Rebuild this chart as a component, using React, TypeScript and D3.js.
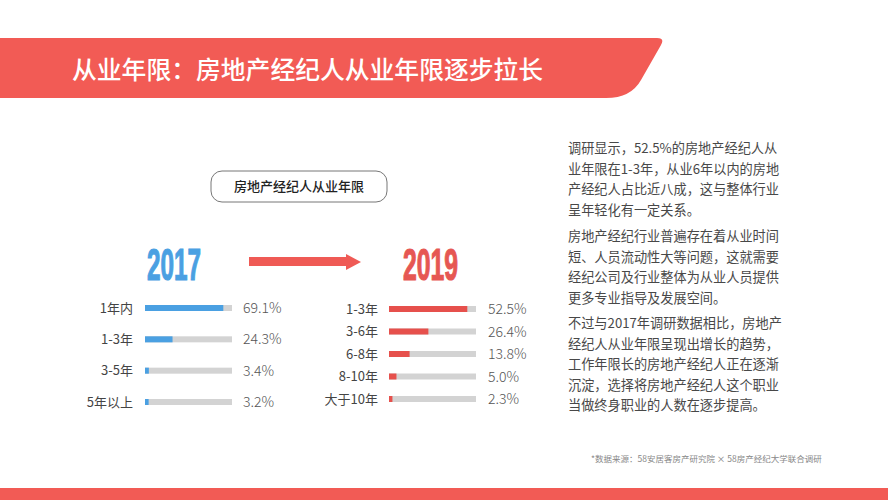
import * as d3 from "d3";

// 2017 / 2019 survey: years in the job for real-estate agents
const cats2017 = ["1年内", "1-3年", "3-5年", "5年以上"];
const vals2017 = [69.1, 24.3, 3.4, 3.2];
const cats2019 = ["1-3年", "3-6年", "6-8年", "8-10年", "大于10年"];
const vals2019 = [52.5, 26.4, 13.8, 5.0, 2.3];

const paragraphs = [
  ["调研显示，52.5%的房地产经纪人从", "业年限在1-3年，从业6年以内的房地", "产经纪人占比近八成，这与整体行业", "呈年轻化有一定关系。"],
  ["房地产经纪行业普遍存在着从业时间", "短、人员流动性大等问题，这就需要", "经纪公司及行业整体为从业人员提供", "更多专业指导及发展空间。"],
  ["不过与2017年调研数据相比，房地产", "经纪人从业年限呈现出增长的趋势，", "工作年限长的房地产经纪人正在逐渐", "沉淀，选择将房地产经纪人这个职业", "当做终身职业的人数在逐步提高。"],
];

const FONT = "'Noto Sans CJK SC', 'Noto Sans', sans-serif";
const RED = "#F25B55";
const BLUE = "#4AA0E2";

function BarPanel({ cats, vals, color, x0, y0, y1, labelX, pctX }: {
  cats: string[]; vals: number[]; color: string; x0: number; y0: number; y1: number; labelX: number; pctX: number;
}) {
  const trackW = 87;
  // longest bar fills ~90% of the track
  const x = d3.scaleLinear().domain([0, (d3.max(vals) ?? 1) / 0.9]).range([0, trackW]);
  const y = d3.scalePoint<string>().domain(cats).range([y0, y1]);
  return (
    <g>
      {cats.map((c, i) => {
        const cy = y(c) ?? 0;
        return (
          <g key={c}>
            <text x={labelX} y={cy + 4.5} textAnchor="end" fontSize="13" fill="#444" fontFamily={FONT}>{c}</text>
            <rect x={x0} y={cy - 3} width={trackW} height={6} fill="#D3D3D3" />
            <rect x={x0} y={cy - 3} width={Math.max(3, x(vals[i]))} height={6} fill={color} />
            <text x={pctX} y={cy + 5} fontSize="14" fontWeight="300" fill="#555" fontFamily={FONT}>{vals[i].toFixed(1)}%</text>
          </g>
        );
      })}
    </g>
  );
}

export default function App() {
  return (
    <div style={{ position: "absolute", left: 0, top: 0 }}>
      <svg width={888} height={500} style={{ display: "block" }}>
        <rect width={888} height={500} fill="#fff" />
        <path d="M0,38 H657 Q665,38 661,45 L641,80 Q631,98 606,98 H0 Z" fill={RED} />
        <text x={72} y={79} fontSize="24.8" fontWeight="500" fill="#fff" fontFamily={FONT}>从业年限：房地产经纪人从业年限逐步拉长</text>

        <rect x={211} y={171} width={176} height={31} rx={11} fill="#fff" stroke="#777" strokeWidth={1} />
        <text x={299} y={191} textAnchor="middle" fontSize="13" fontWeight="500" fill="#222" fontFamily={FONT}>房地产经纪人从业年限</text>

        <text x={0} y={0} transform="translate(147,280) scale(0.54,1)" fontSize="45" fontWeight="bold" fill={BLUE} stroke={BLUE} strokeWidth={1.2} fontFamily="'Liberation Sans', Arial, sans-serif">2017</text>
        <text x={0} y={0} transform="translate(403,280) scale(0.55,1)" fontSize="45" fontWeight="bold" fill="#E65753" stroke="#E65753" strokeWidth={1.2} fontFamily="'Liberation Sans', Arial, sans-serif">2019</text>
        <path d="M249,257 H346 V254 L361,262 L346,270 V266 H249 Z" fill="#EF5A55" />

        <BarPanel cats={cats2017} vals={vals2017} color={BLUE} x0={145} y0={308} y1={402} labelX={133} pctX={243} />
        <BarPanel cats={cats2019} vals={vals2019} color="#E6504C" x0={389} y0={309} y1={399} labelX={378} pctX={488} />

        {paragraphs.map((p, pi) => {
          const starts = [148, 236, 323];
          return p.map((line, li) => (
            <text key={`${pi}-${li}`} x={568} y={starts[pi] + li * 20.5 + 5} fontSize="13.2" fill="#484848" fontFamily={FONT}>{line}</text>
          ));
        })}

        <text x={591} y={462} fontSize="8.5" fill="#888" fontFamily={FONT}>*数据来源：58安居客房产研究院 × 58房产经纪大学联合调研</text>
        <rect x={0} y={488} width={888} height={12} fill={RED} />
      </svg>
    </div>
  );
}
